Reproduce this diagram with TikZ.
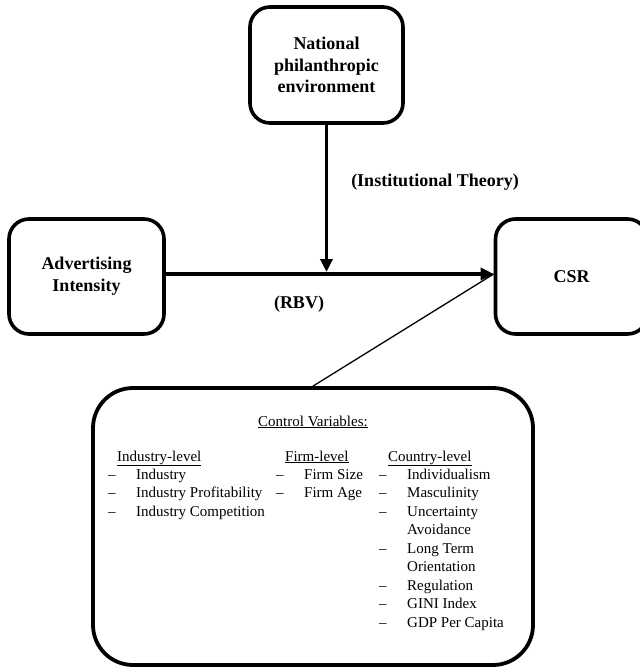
\documentclass[tikz,border=0pt]{standalone}
\usepackage{fontspec}
\setmainfont{Liberation Serif}
\usetikzlibrary{arrows.meta}
\begin{document}
\begin{tikzpicture}[x=1pt,y=-1pt,
  box/.style={draw,line width=3.6pt,rounded corners=20pt,align=center,
    font=\fontsize{18}{21.7}\selectfont\bfseries},
  lbl/.style={font=\fontsize{18}{21.7}\selectfont\bfseries},
  arr/.style={line width=3.5pt,-{Triangle[length=13pt,width=12pt]}},
  thin/.style={line width=1.3pt},
  ctrltxt/.style={anchor=base west,inner sep=0pt,font=\fontsize{15}{18.5}\selectfont}]
\useasboundingbox (0,0) rectangle (639,668);
\node[box,minimum width=153pt,minimum height=116pt] (nat) at (326.5,65)
  {National\\philanthropic\\environment};
\node[box,minimum width=155pt,minimum height=115pt] (adv) at (86.5,276.5)
  {Advertising\\Intensity};
\node[box,minimum width=152pt,minimum height=115pt] (csr) at (571.5,276.5) {CSR};
\node[draw,line width=3.8pt,rounded corners=40pt,minimum width=440pt,minimum height=277pt] (ctrl) at (313,526.5) {};
% connectors
\coordinate (h) at (0,274);
\coordinate (m) at (326,272);
\draw[arr] (adv.east |- h) -- (csr.west |- h);
\draw[arr] (nat.south) -- (nat.south |- m);
\draw[thin] (ctrl.north) -- (csr.west |- h);
% labels
\node[lbl] (inst) at (435,182) {(Institutional Theory)};
\node[lbl] (rbv) at (299,304) {(RBV)};
% control variables
\node[ctrltxt,anchor=base] (cvh) at (313,426) {\underline{Control Variables:}};
\node[ctrltxt] (h1) at (117,461) {\underline{Industry-level}};
\node[ctrltxt] (h2) at (285,461) {\underline{Firm-level}};
\node[ctrltxt] (h3) at (388,461) {\underline{Country-level}};
\foreach \t [count=\i] in {Industry,Industry Profitability,Industry Competition}{
  \node[ctrltxt] (d1\i) at (108,{479+18.5*(\i-1)}) {–};
  \node[ctrltxt] (i1\i) at (136,{479+18.5*(\i-1)}) {\t};
}
\foreach \t [count=\i] in {Firm Size,Firm Age}{
  \node[ctrltxt] (d2\i) at (276,{479+18.5*(\i-1)}) {–};
  \node[ctrltxt] (i2\i) at (304,{479+18.5*(\i-1)}) {\t};
}
\foreach \t/\r [count=\i] in {Individualism/0,Masculinity/1,Uncertainty/2,Long Term/4,Regulation/6,GINI Index/7,GDP Per Capita/8}{
  \node[ctrltxt] (d3\i) at (379,{479+18.5*\r}) {–};
  \node[ctrltxt] (i3\i) at (407,{479+18.5*\r}) {\t};
}
\node[ctrltxt] (i3b) at (407,{479+18.5*3}) {Avoidance};
\node[ctrltxt] (i3c) at (407,{479+18.5*5}) {Orientation};
\end{tikzpicture}
\end{document}
